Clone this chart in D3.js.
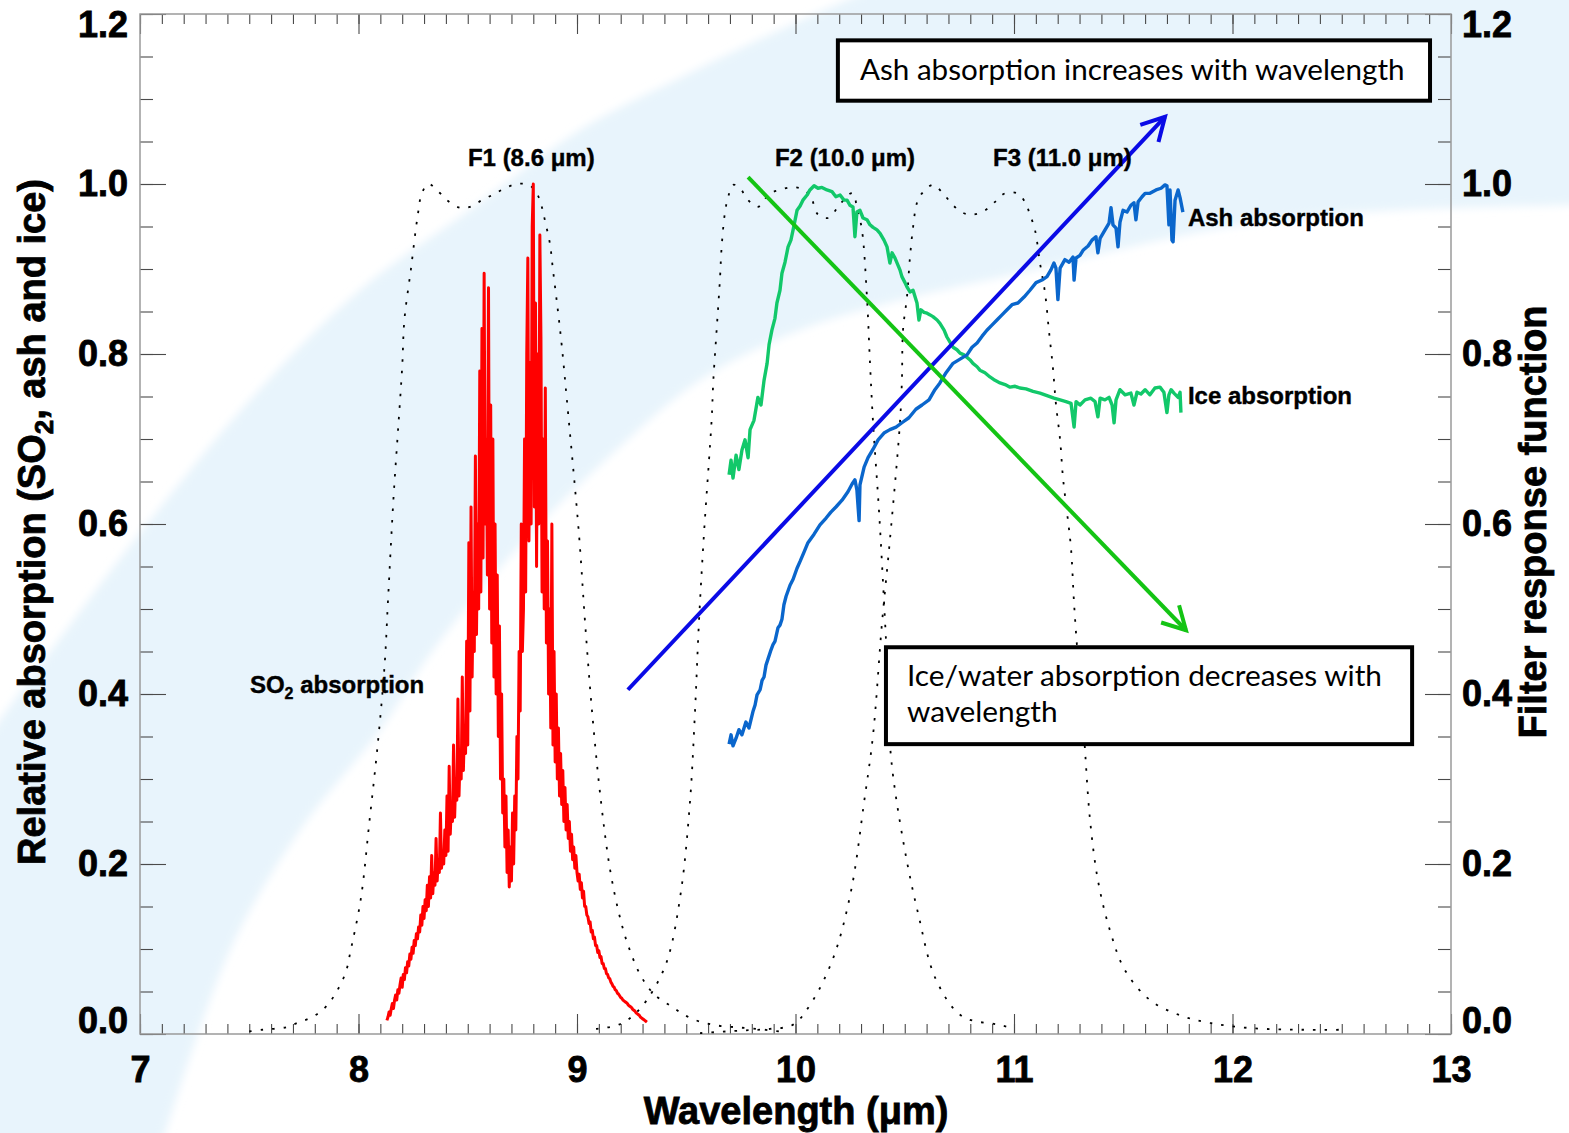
<!DOCTYPE html>
<html><head><meta charset="utf-8">
<script src="https://cdn.jsdelivr.net/npm/d3@7"></script>
<style>body{margin:0;background:#fff}svg{display:block}</style>
</head><body>
<svg id="chart" width="1569" height="1133"></svg>
<script>
// ---------------- DATA ----------------
// SO2 absorption spectrum, sampled every 0.005 µm starting at 8.13 µm
const so2Start = 8.13, so2Step = 0.005;
const so2Absorption = [
 // 8.130 - 8.300
 0.016,0.020,0.026,0.022,0.030,0.036,0.030,0.040,0.046,0.040,
 0.052,0.048,0.058,0.066,0.055,0.070,0.064,0.078,0.072,0.085,
 0.080,0.094,0.088,0.102,0.095,0.110,0.104,0.118,0.112,0.126,
 0.120,0.140,0.128,0.150,0.136,
 // 8.305 - 8.400
 0.158,0.145,0.175,0.150,0.185,0.160,0.210,0.165,0.190,0.175,
 0.230,0.180,0.205,0.190,0.260,0.195,0.215,0.200,0.240,0.210,
 // 8.405 - 8.500
 0.280,0.215,0.315,0.235,0.270,0.250,0.340,0.255,0.300,0.275,
 0.394,0.280,0.330,0.300,0.420,0.310,0.360,0.330,0.462,0.340,
 // 8.505 - 8.555
 0.578,0.380,0.620,0.420,0.520,0.450,0.680,0.470,0.600,0.500,0.780,
 // 8.560 - 8.625
 0.520,0.830,0.560,0.895,0.600,0.700,0.540,0.878,0.500,0.740,0.460,0.700,0.420,0.600,
 // 8.630 - 8.700
 0.400,0.540,0.350,0.480,0.300,0.400,0.260,0.300,0.220,0.280,0.190,0.240,0.173,0.220,0.180,
 // 8.705 - 8.750
 0.260,0.200,0.280,0.240,0.350,0.300,0.450,0.380,0.600,0.450,
 // 8.755 - 8.860
 0.500,0.700,0.520,0.800,0.913,0.580,0.790,0.600,0.950,1.000,0.620,
 0.860,0.550,0.800,0.600,0.940,0.820,0.520,0.700,0.500,0.760,0.460,
 // 8.865 - 9.000
 0.580,0.400,0.500,0.360,0.600,0.340,0.450,0.320,0.400,0.300,
 0.360,0.280,0.330,0.270,0.310,0.250,0.290,0.240,0.270,0.230,
 0.250,0.215,0.235,0.205,0.220,0.195,0.210,0.190,
 // 9.005 - 9.320
 0.180,0.188,0.170,0.178,0.160,0.168,0.150,0.150,0.140,0.138,
 0.130,0.132,0.120,0.122,0.112,0.114,0.104,0.104,0.096,0.098,
 0.090,0.091,0.083,0.083,0.077,0.077,0.071,0.070,0.066,0.065,
 0.061,0.059,0.056,0.055,0.052,0.051,0.048,0.047,0.045,0.043,
 0.042,0.040,0.039,0.038,0.037,0.036,0.034,0.033,0.032,0.031,
 0.029,0.028,0.027,0.025,0.024,0.023,0.022,0.020,0.019,0.018,
 0.017,0.016,0.015,0.014];

const iceWavelength = [9.696,9.705,9.714,9.728,9.741,9.755,9.769,9.783,9.792,9.810,
 9.828,9.842,9.856,9.870,9.879,9.892,9.906,9.915,9.929,9.938,
 9.952,9.966,9.979,9.989,10.007,10.021,10.034,10.053,10.066,10.085,
 10.103,10.121,10.144,10.167,10.185,10.204,10.222,10.236,10.249,10.263,
 10.272,10.281,10.295,10.309,10.327,10.341,10.355,10.373,10.387,10.405,
 10.419,10.432,10.442,10.455,10.465,10.478,10.487,10.501,10.510,10.524,
 10.538,10.556,10.565,10.574,10.588,10.602,10.616,10.629,10.648,10.661,
 10.680,10.693,10.707,10.721,10.739,10.753,10.771,10.785,10.799,10.812,
 10.831,10.844,10.867,10.890,10.913,10.936,10.959,10.982,11.005,11.027,
 11.055,11.087,11.119,11.151,11.183,11.211,11.238,11.261,11.275,11.284,
 11.302,11.325,11.352,11.371,11.384,11.394,11.416,11.435,11.449,11.458,
 11.467,11.485,11.508,11.535,11.549,11.563,11.581,11.600,11.622,11.645,
 11.668,11.686,11.700,11.709,11.719,11.732,11.751,11.760,11.764];
const iceAbsorption = [0.658,0.675,0.654,0.681,0.664,0.687,0.699,0.678,0.711,0.722,
 0.749,0.740,0.769,0.789,0.811,0.828,0.842,0.860,0.875,0.895,
 0.908,0.926,0.934,0.946,0.969,0.974,0.981,0.987,0.993,0.998,
 0.995,0.996,0.993,0.991,0.985,0.987,0.981,0.981,0.975,0.973,
 0.938,0.967,0.969,0.960,0.958,0.952,0.949,0.946,0.942,0.934,
 0.926,0.907,0.919,0.913,0.907,0.899,0.891,0.884,0.879,0.873,
 0.875,0.860,0.840,0.852,0.849,0.848,0.846,0.844,0.840,0.836,
 0.828,0.820,0.814,0.808,0.805,0.801,0.799,0.796,0.793,0.789,
 0.785,0.781,0.778,0.773,0.769,0.766,0.764,0.761,0.762,0.760,
 0.759,0.756,0.754,0.751,0.748,0.746,0.744,0.742,0.714,0.744,
 0.740,0.746,0.748,0.744,0.726,0.748,0.746,0.749,0.740,0.719,
 0.746,0.758,0.752,0.754,0.740,0.755,0.753,0.758,0.752,0.760,
 0.761,0.755,0.731,0.752,0.758,0.754,0.749,0.755,0.731];

const ashWavelength = [9.696,9.705,9.714,9.728,9.741,9.755,9.773,9.787,9.805,9.815,
 9.824,9.838,9.847,9.856,9.865,9.874,9.888,9.897,9.906,9.920,
 9.929,9.938,9.947,9.957,9.975,9.989,10.007,10.021,10.039,10.057,
 10.085,10.112,10.140,10.162,10.185,10.213,10.240,10.259,10.272,10.281,
 10.291,10.295,10.314,10.332,10.355,10.378,10.405,10.432,10.460,10.492,
 10.519,10.551,10.579,10.611,10.638,10.661,10.689,10.721,10.753,10.785,
 10.808,10.831,10.854,10.876,10.899,10.922,10.945,10.968,10.991,11.018,
 11.046,11.073,11.101,11.128,11.151,11.169,11.183,11.192,11.201,11.211,
 11.233,11.252,11.270,11.275,11.284,11.302,11.316,11.339,11.357,11.375,
 11.384,11.394,11.412,11.435,11.444,11.453,11.467,11.476,11.485,11.499,
 11.517,11.535,11.549,11.558,11.568,11.586,11.600,11.622,11.650,11.673,
 11.691,11.700,11.709,11.714,11.723,11.728,11.737,11.751,11.760,11.773];
const ashAbsorption = [0.341,0.352,0.339,0.348,0.358,0.352,0.367,0.360,0.379,0.387,
 0.399,0.405,0.416,0.420,0.434,0.441,0.452,0.458,0.462,0.478,
 0.481,0.488,0.505,0.515,0.528,0.535,0.548,0.556,0.567,0.578,
 0.588,0.599,0.607,0.614,0.620,0.628,0.638,0.647,0.652,0.640,
 0.604,0.646,0.667,0.678,0.688,0.699,0.707,0.711,0.714,0.720,
 0.725,0.735,0.740,0.746,0.758,0.766,0.778,0.789,0.794,0.799,
 0.808,0.813,0.821,0.828,0.834,0.840,0.846,0.852,0.858,0.860,
 0.867,0.875,0.884,0.887,0.891,0.899,0.907,0.901,0.864,0.901,
 0.911,0.908,0.914,0.887,0.913,0.916,0.922,0.927,0.934,0.938,
 0.919,0.936,0.944,0.954,0.972,0.952,0.948,0.926,0.955,0.969,
 0.967,0.975,0.978,0.958,0.979,0.985,0.989,0.989,0.993,0.995,
 0.999,0.998,0.952,0.993,0.934,0.932,0.981,0.993,0.984,0.967];

// Filter response functions
const f1Wavelength = [7.50,7.56,7.67,7.72,7.78,7.83,7.87,7.90,7.93,7.95,7.96,8.01,8.05,8.09,8.12,8.135,8.16,8.18,8.20,8.21,8.24,8.27,8.29,8.32,8.37,8.41,8.465,8.51,8.565,8.62,8.67,8.725,8.78,8.82,8.84,8.855,8.876,8.89,8.913,8.931,8.954,9.009,9.037,9.069,9.11,9.151,9.192,9.233,9.293,9.352,9.435,9.517,9.618,9.723,9.824,9.924];
const f1Response = [0.003,0.005,0.008,0.013,0.019,0.027,0.038,0.050,0.065,0.080,0.093,0.158,0.250,0.346,0.436,0.510,0.630,0.707,0.785,0.840,0.900,0.961,0.989,1.000,0.990,0.980,0.972,0.973,0.981,0.988,0.995,1.000,0.999,0.987,0.972,0.955,0.930,0.899,0.850,0.808,0.745,0.588,0.484,0.379,0.273,0.194,0.142,0.105,0.068,0.047,0.032,0.019,0.011,0.008,0.006,0.003];
const f2Wavelength = [9.087,9.192,9.275,9.352,9.416,9.476,9.517,9.540,9.558,9.581,9.616,9.624,9.639,9.654,9.662,9.677,9.692,9.715,9.746,9.783,9.828,9.883,9.929,9.975,10.021,10.066,10.103,10.149,10.195,10.240,10.263,10.281,10.304,10.327,10.341,10.355,10.382,10.405,10.423,10.437,10.497,10.561,10.643,10.762,10.927,10.995];
const f2Response = [0.006,0.011,0.026,0.053,0.089,0.168,0.273,0.379,0.484,0.588,0.722,0.769,0.828,0.887,0.926,0.966,0.985,0.999,0.995,0.981,0.973,0.989,0.993,0.996,0.995,0.987,0.964,0.960,0.973,0.987,0.989,0.973,0.946,0.867,0.789,0.719,0.616,0.509,0.416,0.326,0.221,0.142,0.064,0.021,0.011,0.007];
const f3Wavelength = [9.563,9.746,9.883,9.989,10.071,10.172,10.254,10.314,10.355,10.396,10.432,10.478,10.487,10.492,10.510,10.524,10.538,10.556,10.579,10.629,10.675,10.721,10.767,10.812,10.867,10.913,10.959,11.014,11.050,11.073,11.096,11.119,11.142,11.160,11.178,11.192,11.211,11.224,11.243,11.261,11.275,11.293,11.307,11.325,11.348,11.384,11.439,11.508,11.622,11.760,11.897,12.080,12.323,12.497];
const f3Response = [0.001,0.004,0.006,0.011,0.036,0.089,0.168,0.273,0.352,0.484,0.581,0.719,0.769,0.828,0.867,0.914,0.949,0.978,0.989,0.999,0.989,0.975,0.966,0.964,0.969,0.979,0.989,0.989,0.979,0.964,0.946,0.907,0.872,0.827,0.784,0.741,0.699,0.655,0.613,0.571,0.506,0.442,0.408,0.334,0.252,0.181,0.122,0.075,0.040,0.022,0.013,0.007,0.005,0.005];

// Axis ticks
const xMajorTicks = [7,8,9,10,11,12,13];
const yMajorTicks = [0,0.2,0.4,0.6,0.8,1.0,1.2];

// Annotation texts
const filterLabels = [{t:"F1 (8.6 \u03bcm)", w:8.501}, {t:"F2 (10.0 \u03bcm)", w:9.906}, {t:"F3 (11.0 \u03bcm)", w:10.904}];
const box1Text = "Ash absorption increases with wavelength";
const box2Text = ["Ice/water absorption decreases with", "wavelength"];

// ---------------- CHART ----------------
const svg = d3.select("#chart");
const x = d3.scaleLinear().domain([7,13]).range([140,1451]);
const y = d3.scaleLinear().domain([0,1.2]).range([1034,14]);
const BOLD = "Arial, 'Liberation Sans', Helvetica, sans-serif";
const BOX_FONT = "Lato, 'Open Sans', sans-serif";

// background swoosh
const defs = svg.append("defs");
defs.append("filter").attr("id","soft").attr("x","-10%").attr("y","-10%").attr("width","120%").attr("height","120%")
  .append("feGaussianBlur").attr("stdDeviation",4);
svg.append("rect").attr("width",1569).attr("height",1133).attr("fill","#ffffff");
const outerEdge = [[-10,735],[0,720],[70,625],[140,533],[250,400],[360,290],[470,210],[580,130],[680,78],[780,30],[870,-10]];
const innerEdge = [[1600,204],[1569,205],[1333,214],[1200,232],[1033,270],[900,300],[800,330],[700,380],[600,465],[520,545],[433,650],[380,730],[300,830],[230,950],[160,1150]];
const edgeLine = d3.line().curve(d3.curveCatmullRom);
const bandPath = edgeLine(outerEdge) + "L1600,-10L1600,204" + edgeLine(innerEdge).replace(/^M/,"L") + "L-10,1150Z";
svg.append("path").attr("d",bandPath).attr("fill","#e8f4fc").attr("filter","url(#soft)");

// axes
const minorX = d3.range(70,131).map(d=>d/10);
const minorY = d3.range(0,25).map(d=>d*0.05);
function styleAxis(g){ g.select(".domain").remove(); g.selectAll(".tick line").attr("stroke","#4a4a4a").attr("stroke-width",1.1); }

svg.append("g").attr("transform","translate(0,1034)").call(d3.axisBottom(x).tickValues(minorX).tickSize(-10).tickFormat("")).call(styleAxis);
const xAx = svg.append("g").attr("transform","translate(0,1034)")
  .call(d3.axisBottom(x).tickValues(xMajorTicks).tickSize(-20).tickPadding(22).tickFormat(d3.format("d"))).call(styleAxis);
svg.append("g").attr("transform","translate(0,14)").call(d3.axisTop(x).tickValues(minorX).tickSize(-10).tickFormat("")).call(styleAxis);
svg.append("g").attr("transform","translate(0,14)").call(d3.axisTop(x).tickValues(xMajorTicks).tickSize(-20).tickFormat("")).call(styleAxis);

svg.append("g").attr("transform","translate(140,0)").call(d3.axisLeft(y).tickValues(minorY).tickSize(-13).tickFormat("")).call(styleAxis);
const yAx = svg.append("g").attr("transform","translate(140,0)")
  .call(d3.axisLeft(y).tickValues(yMajorTicks).tickSize(-26).tickPadding(12).tickFormat(d3.format(".1f"))).call(styleAxis);
svg.append("g").attr("transform","translate(1451,0)").call(d3.axisRight(y).tickValues(minorY).tickSize(-13).tickFormat("")).call(styleAxis);
const yAxR = svg.append("g").attr("transform","translate(1451,0)")
  .call(d3.axisRight(y).tickValues(yMajorTicks).tickSize(-26).tickPadding(11).tickFormat(d3.format(".1f"))).call(styleAxis);

[xAx,yAx,yAxR].forEach(g=>g.selectAll("text").attr("font-family",BOLD).attr("font-weight","bold").attr("font-size",36)
  .attr("fill","#000").attr("stroke","#000").attr("stroke-width",0.8));
[yAx,yAxR].forEach(g=>{
  g.selectAll(".tick text").filter(d=>d===1.2).attr("y",11);
  g.selectAll(".tick text").filter(d=>d===0).attr("y",-13);
});

// frame
svg.append("rect").attr("x",140).attr("y",14).attr("width",1311).attr("height",1020)
  .attr("fill","none").attr("stroke","#9a9a9a").attr("stroke-width",1.5);

// filter response curves (dotted)
const curveLine = d3.line().x(d=>x(d[0])).y(d=>y(d[1])).curve(d3.curveCatmullRom);
[[f1Wavelength,f1Response],[f2Wavelength,f2Response],[f3Wavelength,f3Response]].forEach(([w,r])=>{
  svg.append("path").attr("d",curveLine(d3.zip(w,r))).attr("fill","none")
    .attr("stroke","#000").attr("stroke-width",1.8).attr("stroke-dasharray","2.5 9");
});

// spectra
const specLine = d3.line().x(d=>x(d[0])).y(d=>y(d[1]));
const so2Data = so2Absorption.map((v,i)=>[so2Start + i*so2Step, v]);
svg.append("path").attr("d",specLine(so2Data)).attr("fill","none").attr("stroke","#ff0000").attr("stroke-width",3).attr("stroke-linejoin","round");
svg.append("path").attr("d",specLine(d3.zip(iceWavelength,iceAbsorption))).attr("fill","none").attr("stroke","#12c86a").attr("stroke-width",3.4).attr("stroke-linejoin","round");
svg.append("path").attr("d",specLine(d3.zip(ashWavelength,ashAbsorption))).attr("fill","none").attr("stroke","#0a66cc").attr("stroke-width",3.4).attr("stroke-linejoin","round");

// arrows
function arrow(w1,v1,w2,v2,color){
  const x1=x(w1),y1=y(v1),x2=x(w2),y2=y(v2);
  const a=Math.atan2(y2-y1,x2-x1), L=26, s=0.5;
  svg.append("line").attr("x1",x1).attr("y1",y1).attr("x2",x2).attr("y2",y2).attr("stroke",color).attr("stroke-width",4);
  const p1=[x2-L*Math.cos(a-s), y2-L*Math.sin(a-s)], p2=[x2-L*Math.cos(a+s), y2-L*Math.sin(a+s)];
  svg.append("path").attr("d",`M${p1}L${x2},${y2}L${p2}`).attr("fill","none").attr("stroke",color).attr("stroke-width",4).attr("stroke-linejoin","miter");
}
arrow(9.233,0.405,11.691,1.079,"#0a0ae6");
arrow(9.783,1.008,11.787,0.475,"#14c414");

// labels
function boldText(xp,yp,size){
  return svg.append("text").attr("x",xp).attr("y",yp).attr("font-family",BOLD).attr("font-weight","bold")
    .attr("font-size",size).attr("stroke","#000").attr("stroke-width",0.4);
}
filterLabels.forEach(f=>boldText(x(f.w),y(1.021),24).text(f.t));
const so2Lbl = boldText(x(7.503),y(0.401),24);
so2Lbl.append("tspan").text("SO");
so2Lbl.append("tspan").attr("font-size",16).attr("dy",6).text("2");
so2Lbl.append("tspan").attr("dy",-6).text(" absorption");
boldText(x(11.796),y(0.951),24).text("Ash absorption");
boldText(x(11.796),y(0.741),24).text("Ice absorption");

// boxes
function box(w1,w2,v1,v2){
  svg.append("rect").attr("x",x(w1)).attr("y",y(v2)).attr("width",x(w2)-x(w1)).attr("height",y(v1)-y(v2))
    .attr("fill","#fff").attr("stroke","#000").attr("stroke-width",4);
}
box(10.194,12.904,1.098,1.169);
svg.append("text").attr("x",x(10.295)).attr("y",y(1.1224)).attr("font-family",BOX_FONT).attr("font-size",29.6).text(box1Text);
box(10.414,12.822,0.341,0.455);
svg.append("text").attr("x",x(10.510)).attr("y",y(0.4094)).attr("font-family",BOX_FONT).attr("font-size",29.8).text(box2Text[0]);
svg.append("text").attr("x",x(10.510)).attr("y",y(0.367)).attr("font-family",BOX_FONT).attr("font-size",29.8).text(box2Text[1]);

// axis titles
boldText(796,1124,38).attr("text-anchor","middle").attr("stroke-width",0.8).text("Wavelength (\u03bcm)");
const yt = svg.append("text").attr("transform","translate(45,522) rotate(-90)").attr("text-anchor","middle")
  .attr("font-family",BOLD).attr("font-weight","bold").attr("font-size",38).attr("stroke","#000").attr("stroke-width",0.8);
yt.append("tspan").text("Relative absorption (SO");
yt.append("tspan").attr("font-size",26).attr("dy",8).text("2");
yt.append("tspan").attr("dy",-8).text(", ash and ice)");
svg.append("text").attr("transform","translate(1546,522) rotate(-90)").attr("text-anchor","middle")
  .attr("font-family",BOLD).attr("font-weight","bold").attr("font-size",38).attr("stroke","#000").attr("stroke-width",0.8)
  .text("Filter response function");
</script>
</body></html>
